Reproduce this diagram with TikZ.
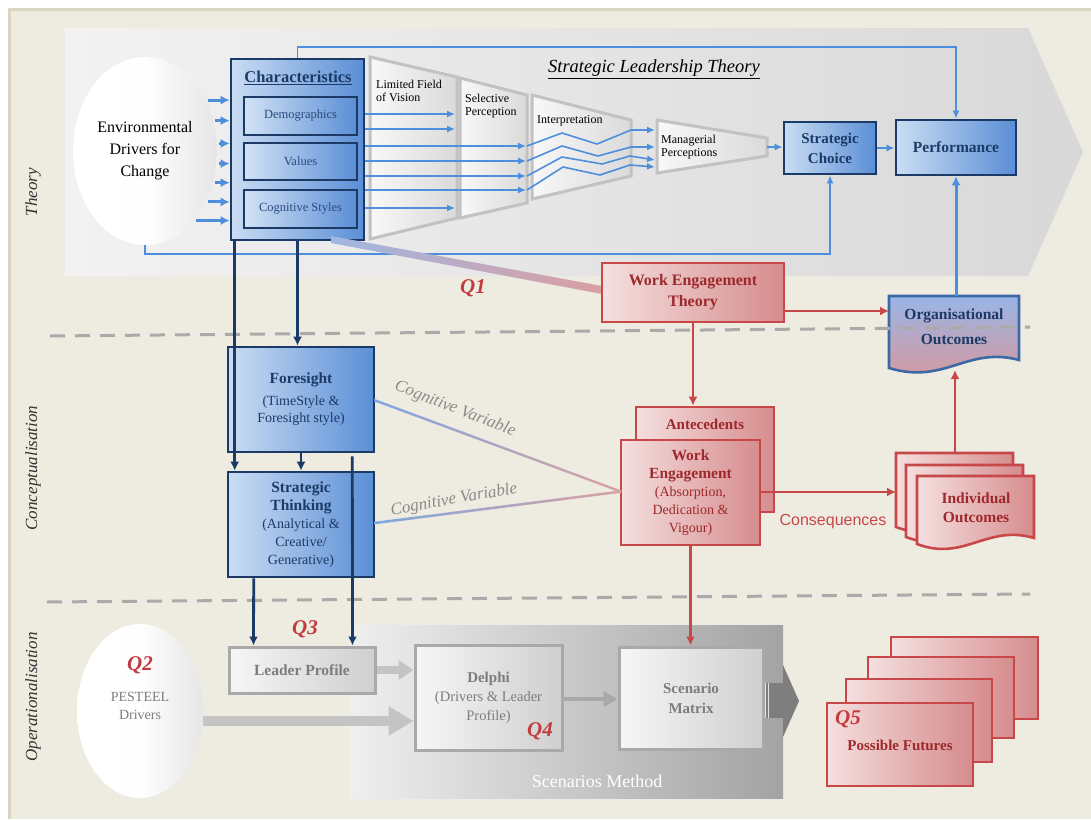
\documentclass[tikz,border=0pt]{standalone}
\usepackage{fontspec}
\setmainfont{Liberation Serif}
\newfontfamily\sansfam{Liberation Sans}
\usetikzlibrary{arrows.meta,shapes.geometric,calc}

\newcommand\fsz[2]{\fontsize{#1}{#2}\selectfont}

\definecolor{bgbeige}{HTML}{EEEBE0}
\definecolor{beigeedge}{HTML}{DAD5BF}
\definecolor{bandL}{HTML}{F2F2F2}
\definecolor{bandR}{HTML}{D8D8D8}
\definecolor{navy}{HTML}{1B3A66}
\definecolor{lineblue}{HTML}{4D8FDC}
\definecolor{bluelight}{HTML}{CADDF3}
\definecolor{bluedark}{HTML}{5A8ED6}
\definecolor{innertext}{HTML}{2C4A7C}
\definecolor{orgblue}{HTML}{3D68A6}
\definecolor{orgtop}{HTML}{9AB5E6}
\definecolor{orgbot}{HTML}{D9969A}
\definecolor{redline}{HTML}{C8484A}
\definecolor{redtext}{HTML}{9E282B}
\definecolor{qred}{HTML}{C43B3E}
\definecolor{pinklight}{HTML}{F5DFDF}
\definecolor{pinkdark}{HTML}{D68C8D}
\definecolor{funnelgray}{HTML}{C2C2C2}
\definecolor{funnelL}{HTML}{F8F8F8}
\definecolor{funnelR}{HTML}{DADADA}
\definecolor{grayline}{HTML}{A9A9A9}
\definecolor{graytext}{HTML}{7D7D7D}
\definecolor{fatgray}{HTML}{C4C4C4}
\definecolor{midgray}{HTML}{A8A8A8}
\definecolor{scL}{HTML}{EFEFEF}
\definecolor{scR}{HTML}{A3A3A3}
\definecolor{scdark}{HTML}{7E7E7E}
\definecolor{cvblue}{HTML}{7EA7E0}
\definecolor{cvpink}{HTML}{DBA1A3}
\definecolor{q1blue}{HTML}{9FB7E2}
\definecolor{q1pink}{HTML}{DB9EA3}
\definecolor{ellgray}{HTML}{E6E6E6}
\definecolor{dashgray}{HTML}{AAAAAA}
\definecolor{labelgray}{HTML}{333333}
\definecolor{cvtext}{HTML}{8A8A8A}
\definecolor{graybL}{HTML}{F6F6F6}
\definecolor{graybR}{HTML}{CFCFCF}

\begin{document}
\begin{tikzpicture}[x=1pt,y=-1pt,
  bluebox/.style={draw=navy, line width=2.6pt, left color=bluelight, right color=bluedark, inner sep=0pt},
  innerbox/.style={draw=navy, line width=2pt, left color=bluelight!85!white, right color=bluedark, inner sep=0pt, font=\fsz{12.5}{15}, text=innertext},
  redbox/.style={draw=redline, line width=2.6pt, left color=pinklight, right color=pinkdark, inner sep=0pt},
  graybox/.style={draw=grayline, line width=3pt, left color=graybL, right color=graybR, inner sep=0pt, text=graytext},
  funnel/.style={draw=funnelgray, line width=3pt, left color=funnelL, right color=funnelR},
  softoval/.style={ellipse, left color=white, right color=ellgray, middle color=white!97!ellgray},
  blarrow/.style={lineblue, line width=1.6pt, -{Latex[length=8pt,width=7pt]}},
  fatblue/.style={lineblue, line width=3pt, -{Latex[length=9pt,width=9pt]}},
  navyarrow/.style={navy, line width=2.8pt, -{Latex[length=9pt,width=9pt]}},
  redarrow/.style={redline, line width=2.6pt, -{Latex[length=9pt,width=9pt]}},
  qlabel/.style={font=\fsz{21}{24}\bfseries\itshape, text=qred},
  sidelabel/.style={rotate=90, font=\fsz{17}{20}\itshape, text=labelgray},
  cvlabel/.style={font=\fsz{17}{19}\itshape, text=cvtext},
  dashline/.style={dashgray, line width=3pt, dash pattern=on 15pt off 10pt}]

\useasboundingbox (0,0) rectangle (1091,819);
% page and frame
\fill[white] (0,0) rectangle (1091,819);
\fill[bgbeige] (8,8) rectangle (1091,819);
\draw[beigeedge, line width=3pt] (9.5,819) -- (9.5,9.5) -- (1091,9.5);

% theory band (pentagon arrow)
\shade[left color=bandL, right color=bandR] (65,28) -- (1028,28) -- (1083,152) -- (1028,276) -- (65,276) -- cycle;

% scenarios method panel with block arrow
\shade[left color=scL, right color=scR] (350,625) rectangle (783,798);
\fill[scdark] (763,683) rectangle (784,718);
\foreach \xx in {765.5,768.5} \draw[white!80!scdark, line width=0.8pt] (\xx,683) -- (\xx,718);
\fill[scdark] (783,665) -- (799,701) -- (783,737) -- cycle;
\node[font=\fsz{18}{20}, text=white] (scmethod) at (597,781) {Scenarios Method};

% side labels
\node[sidelabel] (lbtheory) at (33,192) {Theory};
\node[sidelabel] (lbconc) at (33,468) {Conceptualisation};
\node[sidelabel] (lbop) at (33,697) {Operationalisation};

% environmental drivers
\node[softoval, minimum width=132pt, minimum height=188pt, align=center, font=\fsz{16}{22}] (env) at (145,151) {Environmental\\Drivers for\\Change};

% characteristics
\node[bluebox, minimum width=133pt, minimum height=181pt] (char) at (297.5,149.5) {};
\node[font=\fsz{16.5}{18}\bfseries, text=navy] (chartitle) at (298,78) {\underline{Characteristics}};
\node[innerbox, minimum width=113pt, minimum height=38pt] (demo) at (300.5,115.5) {Demographics};
\node[innerbox, minimum width=113pt, minimum height=37pt] (vals) at (300.5,161.5) {Values};
\node[innerbox, minimum width=113pt, minimum height=38pt] (cogs) at (300.5,208.5) {Cognitive Styles};

% drivers into characteristics
\foreach \ang in {40,24.7,6.9,-10.5,-25.5,-40.1,-55.5}
  \draw[fatblue, shorten <=2pt] (env.\ang) -- (env.\ang -| char.west);

% perception funnels
\path[funnel] (370,57) -- (457,77) -- (457,218) -- (370,239) -- cycle;
\path[funnel] (460,78) -- (527,95) -- (527,203) -- (460,218) -- cycle;
\path[funnel] (532,95) -- (631,120) -- (631,176) -- (532,199) -- cycle;
\path[funnel] (657,120) -- (767,138) -- (767,156) -- (657,173) -- cycle;
\node[anchor=north west, align=left, font=\fsz{12}{12.5}, inner sep=0pt] (lfv) at (376,80) {Limited Field\\of Vision};
\node[anchor=north west, align=left, font=\fsz{12}{12.5}, inner sep=0pt] (selp) at (465,94) {Selective\\Perception};
\node[anchor=north west, align=left, font=\fsz{12}{12.5}, inner sep=0pt] (interp) at (537,115) {Interpretation};
\node[anchor=north west, align=left, font=\fsz{12}{12.5}, inner sep=0pt] (manp) at (661,135) {Managerial\\Perceptions};
\node[font=\fsz{18.5}{20}\itshape] (slt) at (654,69) {\underline{Strategic Leadership Theory}};

% flows through the funnels
\foreach \yy in {114,129,208} \draw[blarrow] (char.east |- 0,\yy) -- (455,\yy);
\foreach \yy in {146,161,176,190} \draw[blarrow] (char.east |- 0,\yy) -- (526,\yy);
\draw[blarrow] (527,146) -- (562,133) -- (597,144) -- (631,130) -- (655,130);
\draw[blarrow] (527,161) -- (562,146) -- (598,156) -- (631,147) -- (655,147);
\draw[blarrow] (527,176) -- (562,157) -- (602,164) -- (630,156) -- (655,160);
\draw[blarrow] (527,190) -- (563,167) -- (600,175) -- (630,165) -- (655,167);

% strategic choice and performance
\node[bluebox, minimum width=92pt, minimum height=52pt, align=center, font=\fsz{15}{20}\bfseries, text=navy] (sc) at (830,148) {Strategic\\Choice};
\node[bluebox, minimum width=120pt, minimum height=55pt, font=\fsz{15.5}{18}\bfseries, text=navy] (perf) at (956,147.5) {Performance};
\coordinate (mpout) at (767,147);
\draw[blarrow] (mpout) -- (sc.west |- mpout);
\draw[blarrow] (sc.east) -- (perf.west |- sc.east);
\draw[blarrow] (char.north) -- (char.north |- 0,47) -| (perf.north);
\draw[blarrow] (env.south) -- (env.south |- 0,254) -| (sc.south);

% Q1 link
\shade[left color=q1blue, right color=q1pink] (331,236) -- (602,286) -- (602,294) -- (331,243) -- cycle;
\node[qlabel] (q1) at (473,288) {Q1};

% work engagement theory
\node[redbox, minimum width=182pt, minimum height=59pt, align=center, font=\fsz{16}{21}\bfseries, text=redtext] (wet) at (693,292.5) {Work Engagement\\Theory};

% organisational outcomes (document shape)
\path[draw=orgblue, line width=2.6pt, top color=orgtop, bottom color=orgbot] (889,296) -- (1019,296) -- (1019,360) .. controls (967,346) and (945,385) .. (889,368) -- cycle;
\node[align=center, font=\fsz{15.5}{25}\bfseries, text=navy] (org) at (954,327) {Organisational\\Outcomes};
\coordinate (orgleft) at (889,311);
\coordinate (orgtopc) at (956,296);
\coordinate (orgbottom) at (955,370);
\draw[fatblue] (orgtopc) -- (perf.south);
\draw[redarrow] (wet.east |- orgleft) -- (orgleft);

% section dividers
\draw[dashline] (50,336) -- (1030,327);
\draw[dashline] (47,602) -- (1030,594);

% foresight and strategic thinking
\node[bluebox, minimum width=146pt, minimum height=105pt, align=center, text=navy, font=\fsz{14}{17}] (fores) at (301,399.5) {{\fsz{15.5}{18}\bfseries Foresight}\\[5pt](TimeStyle \&\\Foresight style)};
\node[bluebox, minimum width=146pt, minimum height=105pt, align=center, text=navy, font=\fsz{14}{18}] (st) at (301,524.5) {{\fsz{15.5}{20}\bfseries Strategic}\\{\fsz{15.5}{20}\bfseries Thinking}\\(Analytical \&\\Creative/\\Generative)};

% antecedents and work engagement
\node[redbox, minimum width=138pt, minimum height=105pt] (ante) at (705,459.5) {};
\node[font=\fsz{15}{18}\bfseries, text=redtext] (antetxt) at (705,424) {Antecedents};
\node[redbox, minimum width=139pt, minimum height=105pt, align=center, text=redtext, font=\fsz{14}{18}] (we) at (690.5,492.5) {{\fsz{15.5}{20}\bfseries Work}\\{\fsz{15.5}{20}\bfseries Engagement}\\(Absorption,\\Dedication \&\\Vigour)};
\draw[redarrow] (wet.south) -- (wet.south |- ante.north);

% cognitive variable links
\shade[left color=cvblue, right color=cvpink] (374,398.7) -- (621,490.3) -- (621,492.8) -- (374,401.3) -- cycle;
\shade[left color=cvblue, right color=cvpink] (374,521.8) -- (621,490.3) -- (621,492.8) -- (374,524.4) -- cycle;
\node[cvlabel, rotate=-21] (cv1) at (455,409) {Cognitive Variable};
\node[cvlabel, rotate=10] (cv2) at (454,500) {Cognitive Variable};

% individual outcomes (stacked documents)
\path[redbox, draw=redline] (896,453) -- (1013,453) -- (1013,521) .. controls (966,507) and (943,545) .. (896,527) -- cycle;
\path[redbox, draw=redline] (906,465) -- (1023,465) -- (1023,531) .. controls (976,517) and (953,555) .. (906,537) -- cycle;
\path[redbox, draw=redline] (917,476) -- (1034,476) -- (1034,538) .. controls (987,524) and (964,562) .. (917,544) -- cycle;
\node[align=center, font=\fsz{15.5}{19}\bfseries, text=redtext] (indiv) at (976,508) {Individual\\Outcomes};
\coordinate (iowest) at (896,492);
\coordinate (iotop) at (955,453);
\draw[redarrow] (we.east |- iowest) -- (iowest);
\draw[redarrow] (iotop) -- (orgbottom);
\node[font=\sansfam\fsz{16}{18}, text=redline] (conseq) at (833,522) {Consequences};

% operationalisation
\node[softoval, minimum width=126pt, minimum height=174pt] (pest) at (140,711) {};
\node[qlabel] (q2) at (140,665) {Q2};
\node[align=center, font=\fsz{14}{18}, text=graytext] (pesttxt) at (140,706) {PESTEEL\\Drivers};

\node[graybox, minimum width=146pt, minimum height=46pt, font=\fsz{15.5}{18}\bfseries] (lp) at (302,670) {Leader Profile};
\node[qlabel] (q3) at (305,629) {Q3};
\node[graybox, minimum width=147pt, minimum height=105pt, align=center, font=\fsz{14.5}{19}] (delphi) at (488.5,697.5) {{\fsz{15}{19}\bfseries Delphi}\\(Drivers \& Leader\\Profile)};
\node[qlabel] (q4) at (540,731) {Q4};
\node[graybox, minimum width=144pt, minimum height=102pt, align=center, font=\fsz{15}{20}\bfseries] (sm) at (691,698) {Scenario\\Matrix};

\draw[fatgray, line width=8pt, -{Triangle[length=15pt,width=19pt]}] (lp.east) -- (delphi.west |- lp.east);
\draw[fatgray, line width=10pt, -{Triangle[length=25pt,width=28pt]}] (pest.east |- 0,721) -- (delphi.west |- 0,721);
\draw[midgray, line width=4.5pt, -{Triangle[length=14pt,width=15pt]}] (delphi.east |- 0,699) -- (sm.west |- 0,699);
\draw[redarrow] (we.south) -- (we.south |- sm.north);

% possible futures
\node[redbox, minimum width=147pt, minimum height=82pt] (pf4) at (964.5,678) {};
\node[redbox, minimum width=146pt, minimum height=81pt] (pf3) at (941,697.5) {};
\node[redbox, minimum width=146pt, minimum height=83pt] (pf2) at (919,720.5) {};
\node[redbox, minimum width=146pt, minimum height=83pt] (pf1) at (900,744.5) {};
\node[qlabel] (q5) at (848,719) {Q5};
\node[font=\fsz{15}{18}\bfseries, text=redtext] (pftxt) at (900,745) {Possible Futures};

% navy structural connectors
\draw[navyarrow] ([xshift=5pt]char.south west) -- ([xshift=8pt]st.north west);
\draw[navyarrow] (char.south) -- (char.south |- fores.north);
\draw[navyarrow] (fores.south) -- (st.north);
\draw[navyarrow] ([xshift=-23pt,yshift=-3pt]fores.south east) -- ([xshift=-24pt]lp.north east);
\draw[navyarrow] ([xshift=27pt]st.south west) -- ([xshift=26pt]lp.north west);
\end{tikzpicture}
\end{document}
